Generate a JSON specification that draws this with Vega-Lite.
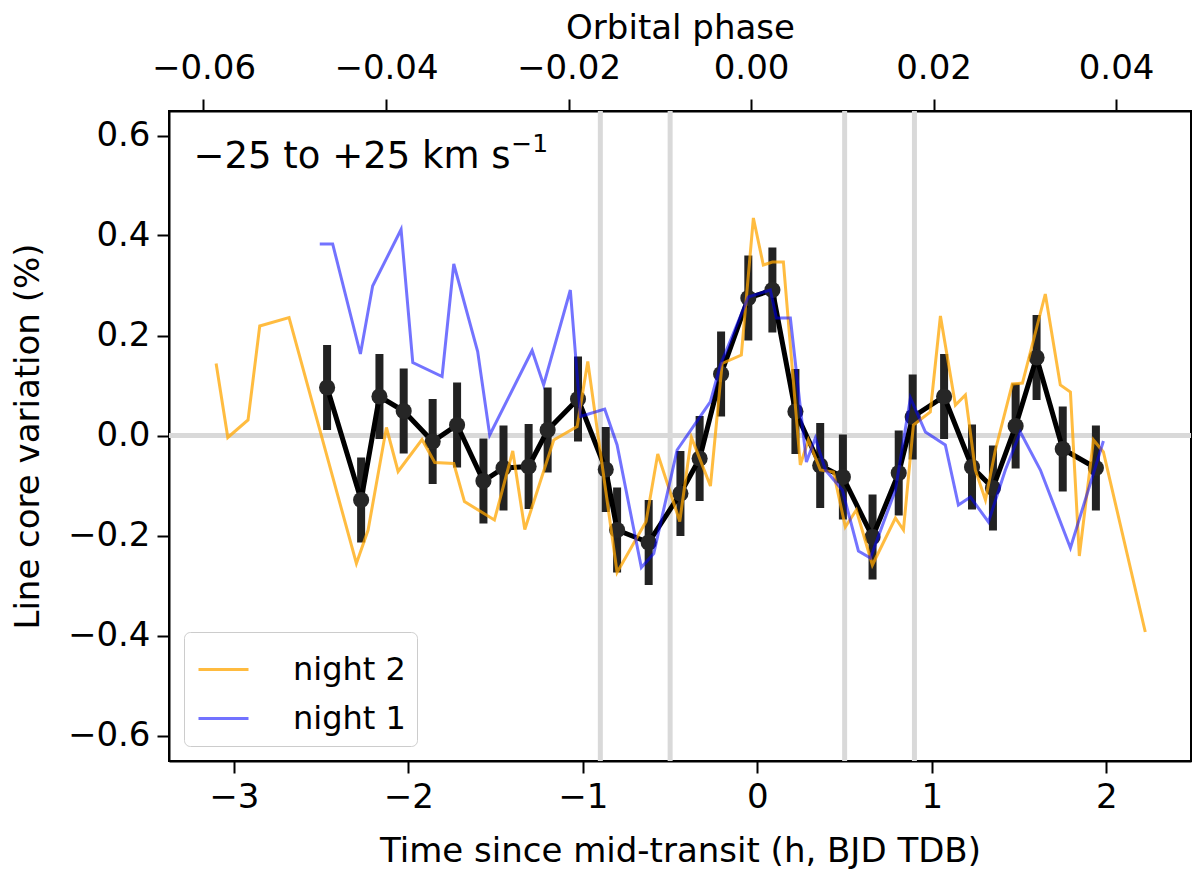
{
  "$schema": "https://vega.github.io/schema/vega-lite/v6.json",
  "width": 1022,
  "height": 650,
  "autosize": {"type": "none"},
  "padding": {"left": 169, "top": 111, "right": 9, "bottom": 116},
  "background": "white",
  "config": {
    "font": "DejaVu Sans",
    "view": {"stroke": "black", "strokeWidth": 2},
    "axis": {
      "domainColor": "black", "domainWidth": 2,
      "tickColor": "black", "tickWidth": 2, "tickSize": 12,
      "labelFont": "DejaVu Sans", "labelFontSize": 34, "labelColor": "black", "labelPadding": 7,
      "labelOverlap": false, "labelFlush": false,
      "titleFont": "DejaVu Sans", "titleFontSize": 34, "titleFontWeight": "normal", "titleColor": "black",
      "grid": false
    },
    "legend": {
      "labelFont": "DejaVu Sans", "labelFontSize": 32, "labelColor": "black",
      "symbolType": "stroke", "symbolSize": 2500, "symbolStrokeWidth": 3, "symbolOpacity": 0.65,
      "symbolOffset": 2, "labelOffset": 43, "rowPadding": 6, "padding": 11,
      "strokeColor": "#cccccc", "fillColor": "white", "cornerRadius": 6
    }
  },
  "datasets": {
    "nights": [
      {"t": -3.102, "v": 0.144, "night": "night 2"},
      {"t": -3.035, "v": -0.004, "night": "night 2"},
      {"t": -2.919, "v": 0.031, "night": "night 2"},
      {"t": -2.852, "v": 0.219, "night": "night 2"},
      {"t": -2.684, "v": 0.236, "night": "night 2"},
      {"t": -2.298, "v": -0.256, "night": "night 2"},
      {"t": -2.231, "v": -0.189, "night": "night 2"},
      {"t": -2.126, "v": 0.016, "night": "night 2"},
      {"t": -2.059, "v": -0.072, "night": "night 2"},
      {"t": -1.922, "v": -0.008, "night": "night 2"},
      {"t": -1.849, "v": -0.054, "night": "night 2"},
      {"t": -1.740, "v": -0.056, "night": "night 2"},
      {"t": -1.679, "v": -0.132, "night": "night 2"},
      {"t": -1.507, "v": -0.169, "night": "night 2"},
      {"t": -1.402, "v": -0.031, "night": "night 2"},
      {"t": -1.333, "v": -0.188, "night": "night 2"},
      {"t": -1.167, "v": -0.009, "night": "night 2"},
      {"t": -1.033, "v": 0.018, "night": "night 2"},
      {"t": -0.972, "v": 0.148, "night": "night 2"},
      {"t": -0.804, "v": -0.274, "night": "night 2"},
      {"t": -0.638, "v": -0.172, "night": "night 2"},
      {"t": -0.571, "v": -0.037, "night": "night 2"},
      {"t": -0.445, "v": -0.172, "night": "night 2"},
      {"t": -0.378, "v": -0.004, "night": "night 2"},
      {"t": -0.269, "v": -0.101, "night": "night 2"},
      {"t": -0.202, "v": 0.144, "night": "night 2"},
      {"t": -0.092, "v": 0.161, "night": "night 2"},
      {"t": -0.023, "v": 0.435, "night": "night 2"},
      {"t": 0.034, "v": 0.341, "night": "night 2"},
      {"t": 0.086, "v": 0.347, "night": "night 2"},
      {"t": 0.149, "v": 0.347, "night": "night 2"},
      {"t": 0.246, "v": -0.059, "night": "night 2"},
      {"t": 0.292, "v": -0.009, "night": "night 2"},
      {"t": 0.361, "v": -0.069, "night": "night 2"},
      {"t": 0.436, "v": -0.073, "night": "night 2"},
      {"t": 0.504, "v": -0.183, "night": "night 2"},
      {"t": 0.567, "v": -0.149, "night": "night 2"},
      {"t": 0.659, "v": -0.259, "night": "night 2"},
      {"t": 0.791, "v": -0.165, "night": "night 2"},
      {"t": 0.837, "v": -0.189, "night": "night 2"},
      {"t": 0.894, "v": 0.021, "night": "night 2"},
      {"t": 0.991, "v": 0.047, "night": "night 2"},
      {"t": 1.049, "v": 0.239, "night": "night 2"},
      {"t": 1.135, "v": 0.061, "night": "night 2"},
      {"t": 1.192, "v": 0.081, "night": "night 2"},
      {"t": 1.249, "v": -0.069, "night": "night 2"},
      {"t": 1.307, "v": -0.129, "night": "night 2"},
      {"t": 1.364, "v": -0.029, "night": "night 2"},
      {"t": 1.461, "v": 0.103, "night": "night 2"},
      {"t": 1.519, "v": 0.105, "night": "night 2"},
      {"t": 1.650, "v": 0.283, "night": "night 2"},
      {"t": 1.736, "v": 0.101, "night": "night 2"},
      {"t": 1.794, "v": 0.087, "night": "night 2"},
      {"t": 1.845, "v": -0.241, "night": "night 2"},
      {"t": 1.926, "v": -0.009, "night": "night 2"},
      {"t": 1.983, "v": -0.033, "night": "night 2"},
      {"t": 2.223, "v": -0.393, "night": "night 2"},
      {"t": -2.508, "v": 0.383, "night": "night 1"},
      {"t": -2.434, "v": 0.383, "night": "night 1"},
      {"t": -2.275, "v": 0.163, "night": "night 1"},
      {"t": -2.205, "v": 0.299, "night": "night 1"},
      {"t": -2.042, "v": 0.412, "night": "night 1"},
      {"t": -1.975, "v": 0.146, "night": "night 1"},
      {"t": -1.807, "v": 0.118, "night": "night 1"},
      {"t": -1.740, "v": 0.343, "night": "night 1"},
      {"t": -1.603, "v": 0.168, "night": "night 1"},
      {"t": -1.534, "v": 0.001, "night": "night 1"},
      {"t": -1.291, "v": 0.170, "night": "night 1"},
      {"t": -1.225, "v": 0.101, "night": "night 1"},
      {"t": -1.072, "v": 0.291, "night": "night 1"},
      {"t": -1.014, "v": 0.038, "night": "night 1"},
      {"t": -0.875, "v": 0.053, "night": "night 1"},
      {"t": -0.804, "v": -0.019, "night": "night 1"},
      {"t": -0.665, "v": -0.264, "night": "night 1"},
      {"t": -0.594, "v": -0.236, "night": "night 1"},
      {"t": -0.460, "v": -0.029, "night": "night 1"},
      {"t": -0.269, "v": 0.068, "night": "night 1"},
      {"t": -0.212, "v": 0.141, "night": "night 1"},
      {"t": -0.052, "v": 0.277, "night": "night 1"},
      {"t": 0.074, "v": 0.291, "night": "night 1"},
      {"t": 0.109, "v": 0.235, "night": "night 1"},
      {"t": 0.189, "v": 0.235, "night": "night 1"},
      {"t": 0.281, "v": -0.053, "night": "night 1"},
      {"t": 0.332, "v": -0.005, "night": "night 1"},
      {"t": 0.390, "v": -0.069, "night": "night 1"},
      {"t": 0.487, "v": -0.109, "night": "night 1"},
      {"t": 0.579, "v": -0.231, "night": "night 1"},
      {"t": 0.648, "v": -0.245, "night": "night 1"},
      {"t": 0.791, "v": -0.109, "night": "night 1"},
      {"t": 0.877, "v": 0.075, "night": "night 1"},
      {"t": 0.963, "v": 0.007, "night": "night 1"},
      {"t": 1.077, "v": -0.019, "night": "night 1"},
      {"t": 1.152, "v": -0.139, "night": "night 1"},
      {"t": 1.221, "v": -0.123, "night": "night 1"},
      {"t": 1.324, "v": -0.173, "night": "night 1"},
      {"t": 1.421, "v": -0.069, "night": "night 1"},
      {"t": 1.507, "v": 0.007, "night": "night 1"},
      {"t": 1.622, "v": -0.069, "night": "night 1"},
      {"t": 1.794, "v": -0.225, "night": "night 1"},
      {"t": 1.983, "v": -0.011, "night": "night 1"}
    ],
    "bins": [
      {"t": -2.466, "v": 0.096, "err": 0.085},
      {"t": -2.271, "v": -0.129, "err": 0.085},
      {"t": -2.166, "v": 0.078, "err": 0.085},
      {"t": -2.027, "v": 0.049, "err": 0.085},
      {"t": -1.861, "v": -0.012, "err": 0.085},
      {"t": -1.721, "v": 0.021, "err": 0.085},
      {"t": -1.570, "v": -0.091, "err": 0.085},
      {"t": -1.455, "v": -0.065, "err": 0.085},
      {"t": -1.311, "v": -0.062, "err": 0.085},
      {"t": -1.202, "v": 0.011, "err": 0.085},
      {"t": -1.028, "v": 0.073, "err": 0.085},
      {"t": -0.869, "v": -0.068, "err": 0.085},
      {"t": -0.804, "v": -0.189, "err": 0.085},
      {"t": -0.623, "v": -0.214, "err": 0.085},
      {"t": -0.441, "v": -0.116, "err": 0.085},
      {"t": -0.331, "v": -0.046, "err": 0.085},
      {"t": -0.208, "v": 0.123, "err": 0.085},
      {"t": -0.052, "v": 0.275, "err": 0.085},
      {"t": 0.086, "v": 0.291, "err": 0.085},
      {"t": 0.218, "v": 0.048, "err": 0.085},
      {"t": 0.360, "v": -0.060, "err": 0.085},
      {"t": 0.490, "v": -0.083, "err": 0.085},
      {"t": 0.660, "v": -0.203, "err": 0.085},
      {"t": 0.810, "v": -0.075, "err": 0.085},
      {"t": 0.890, "v": 0.037, "err": 0.085},
      {"t": 1.070, "v": 0.078, "err": 0.085},
      {"t": 1.230, "v": -0.063, "err": 0.085},
      {"t": 1.350, "v": -0.105, "err": 0.085},
      {"t": 1.480, "v": 0.019, "err": 0.085},
      {"t": 1.600, "v": 0.156, "err": 0.085},
      {"t": 1.750, "v": -0.027, "err": 0.085},
      {"t": 1.940, "v": -0.065, "err": 0.085}
    ],
    "contacts": [{"t": -0.9}, {"t": -0.5}, {"t": 0.5}, {"t": 0.9}],
    "phaseRange": [{"phase": -0.06378}, {"phase": 0.04821}]
  },
  "layer": [
    {
      "layer": [
        {
          "data": {"name": "contacts"},
          "mark": {"type": "rule", "color": "#d9d9d9", "strokeWidth": 5},
          "encoding": {
            "x": {"field": "t", "type": "quantitative", "title": "Time since mid-transit (h, BJD TDB)",
              "scale": {"domain": [-3.372, 2.485], "nice": false, "zero": false},
              "axis": {"orient": "bottom", "values": [-3, -2, -1, 0, 1, 2], "format": "d", "title": "Time since mid-transit (h, BJD TDB)", "titlePadding": 20}}
          }
        },
        {
          "data": {"name": "contacts"},
          "mark": {"type": "rule", "color": "#d9d9d9", "strokeWidth": 5},
          "encoding": {
            "y": {"datum": 0, "type": "quantitative", "title": "Line core variation (%)",
              "scale": {"domain": [-0.651, 0.649], "nice": false, "zero": false},
              "axis": {"values": [-0.6, -0.4, -0.2, 0, 0.2, 0.4, 0.6], "format": ".1f", "title": "Line core variation (%)", "titlePadding": 22}}
          }
        },
        {
          "data": {"name": "bins"},
          "mark": {"type": "errorbar", "thickness": 8, "color": "#222222", "ticks": false},
          "encoding": {
            "x": {"field": "t", "type": "quantitative", "title": "Time since mid-transit (h, BJD TDB)"},
            "y": {"field": "v", "type": "quantitative", "title": "Line core variation (%)"},
            "yError": {"field": "err"}
          }
        },
        {
          "data": {"name": "bins"},
          "mark": {"type": "line", "color": "black", "strokeWidth": 5},
          "encoding": {
            "x": {"field": "t", "type": "quantitative", "title": "Time since mid-transit (h, BJD TDB)"},
            "y": {"field": "v", "type": "quantitative", "title": "Line core variation (%)"}
          }
        },
        {
          "data": {"name": "bins"},
          "mark": {"type": "circle", "color": "#262626", "size": 260, "opacity": 1},
          "encoding": {
            "x": {"field": "t", "type": "quantitative", "title": "Time since mid-transit (h, BJD TDB)"},
            "y": {"field": "v", "type": "quantitative", "title": "Line core variation (%)"}
          }
        },
        {
          "data": {"name": "nights"},
          "mark": {"type": "line", "strokeWidth": 3},
          "encoding": {
            "x": {"field": "t", "type": "quantitative", "title": "Time since mid-transit (h, BJD TDB)"},
            "y": {"field": "v", "type": "quantitative", "title": "Line core variation (%)"},
            "color": {"field": "night", "type": "nominal",
              "scale": {"domain": ["night 2", "night 1"], "range": ["#ffa500", "#0000ff"]},
              "legend": {"title": null, "orient": "bottom-left", "offset": 15}},
            "opacity": {"field": "night", "type": "nominal",
              "scale": {"domain": ["night 2", "night 1"], "range": [0.75, 0.55]},
              "legend": null}
          }
        },
        {
          "data": {"name": "contacts"},
          "transform": [{"filter": "datum.t == -0.9"}],
          "mark": {"type": "text", "text": "−25 to +25 km s", "align": "left", "baseline": "middle", "fontSize": 37, "font": "DejaVu Sans", "color": "black"},
          "encoding": {
            "x": {"datum": -3.232, "type": "quantitative"},
            "y": {"datum": 0.557, "type": "quantitative"}
          }
        },
        {
          "data": {"name": "contacts"},
          "transform": [{"filter": "datum.t == -0.9"}],
          "mark": {"type": "text", "text": "−1", "align": "left", "baseline": "middle", "fontSize": 25, "font": "DejaVu Sans", "color": "black"},
          "encoding": {
            "x": {"datum": -1.41, "type": "quantitative"},
            "y": {"datum": 0.584, "type": "quantitative"}
          }
        }
      ]
    },
    {
      "data": {"name": "phaseRange"},
      "mark": {"type": "rule", "opacity": 0},
      "encoding": {
        "x": {"field": "phase", "type": "quantitative", "title": "Orbital phase",
          "scale": {"domain": [-0.06378, 0.04821], "nice": false, "zero": false},
          "axis": {"orient": "top", "values": [-0.06, -0.04, -0.02, 0, 0.02, 0.04], "format": ".2f", "title": "Orbital phase", "labelPadding": 14, "titlePadding": 6}}
      }
    }
  ],
  "resolve": {"scale": {"x": "independent"}, "axis": {"x": "independent"}}
}
